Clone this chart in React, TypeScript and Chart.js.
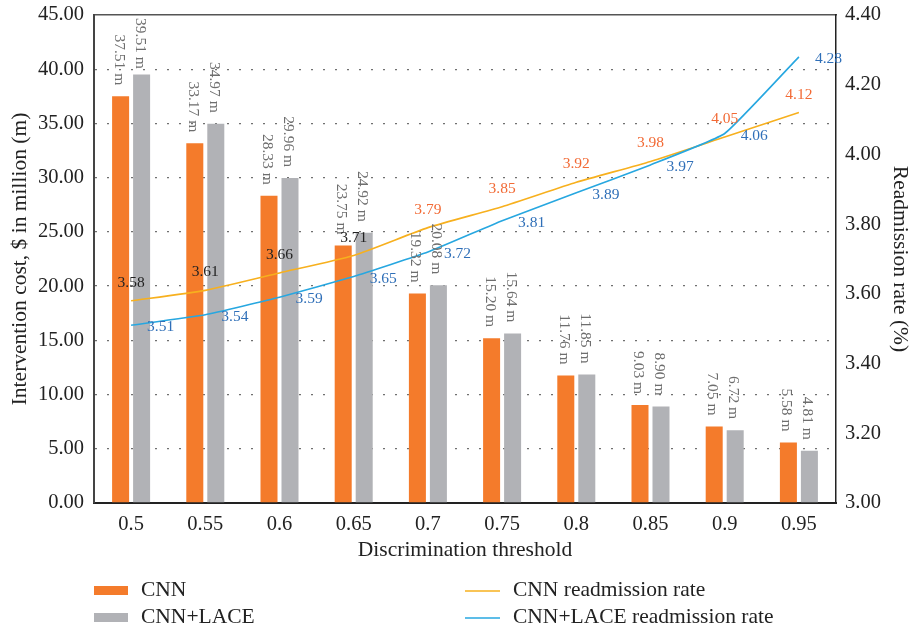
import React, { useEffect, useRef } from "react";
import { Chart, registerables } from "chart.js";

Chart.register(...registerables);

const thresholds = ["0.5", "0.55", "0.6", "0.65", "0.7", "0.75", "0.8", "0.85", "0.9", "0.95"];
const cnnCost = [37.51, 33.17, 28.33, 23.75, 19.32, 15.2, 11.76, 9.03, 7.05, 5.58];
const laceCost = [39.51, 34.97, 29.96, 24.92, 20.08, 15.64, 11.85, 8.9, 6.72, 4.81];
const cnnRate = [3.58, 3.61, 3.66, 3.71, 3.79, 3.85, 3.92, 3.98, 4.05, 4.12];
const laceRate = [3.51, 3.54, 3.59, 3.65, 3.72, 3.81, 3.89, 3.97, 4.06, 4.28];
const cnnRateLabelColors = ["#222", "#222", "#222", "#222", "#F26A35", "#F26A35", "#F26A35", "#F26A35", "#F26A35", "#F26A35"];

const FONT = '"Liberation Serif", "Times New Roman", serif';
const ORANGE = "#F47B2B";
const GRAY = "#B1B2B6";
const LINE_ORANGE = "#F7B01E";
const LINE_BLUE = "#27A7E0";
const LABEL_BLUE = "#2F6FB8";
const TICK_SIZE = 20.5;
const TITLE_SIZE = 21.5;
const LABEL_SIZE = 15.5;

const labelPlugin = {
  id: "valueLabels",
  afterDatasetsDraw(chart: any) {
    const ctx = chart.ctx;
    const area = chart.chartArea;
    ctx.save();
    chart.data.datasets.forEach((ds: any, di: number) => {
      const meta = chart.getDatasetMeta(di);
      meta.data.forEach((el: any, i: number) => {
        const v = ds.data[i];
        ctx.font = `${LABEL_SIZE}px ${FONT}`;
        if (ds.type === "bar") {
          const text = v.toFixed(2) + " m";
          ctx.fillStyle = "#6E6E6E";
          const w = ctx.measureText(text).width;
          const endY = Math.max(el.y - 11, area.top + 3 + w);
          ctx.save();
          ctx.translate(el.x - 2, endY);
          ctx.rotate(Math.PI / 2);
          ctx.textAlign = "right";
          ctx.textBaseline = "middle";
          ctx.fillText(text, 0, 0);
          ctx.restore();
        } else if (ds.labelMode === "above") {
          ctx.fillStyle = cnnRateLabelColors[i];
          ctx.textAlign = "center";
          ctx.textBaseline = "middle";
          ctx.fillText(v.toFixed(2), el.x, el.y - 18);
        } else {
          ctx.fillStyle = LABEL_BLUE;
          ctx.textAlign = "left";
          ctx.textBaseline = "middle";
          ctx.fillText(v.toFixed(2), el.x + 16, el.y + 2);
        }
      });
    });
    ctx.restore();
  },
};

const legendPlugin = {
  id: "gridLegend",
  afterDraw(chart: any) {
    const ctx = chart.ctx;
    const left = chart.chartArea.left;
    const rows = [590, 617];
    ctx.save();
    ctx.font = `${TITLE_SIZE}px ${FONT}`;
    ctx.textBaseline = "middle";
    ctx.textAlign = "left";
    chart.data.datasets.forEach((ds: any, di: number) => {
      const col = ds.type === "bar" ? 0 : 1;
      const row = di % 2;
      const y = rows[row];
      if (col === 0) {
        ctx.fillStyle = ds.backgroundColor;
        ctx.fillRect(left, y - 4, 34, 9);
        ctx.fillStyle = "#222";
        ctx.fillText(ds.label, left + 47, y);
      } else {
        const x0 = 465;
        ctx.strokeStyle = ds.borderColor;
        ctx.lineWidth = 1.5;
        ctx.beginPath();
        ctx.moveTo(x0, y + 1);
        ctx.lineTo(x0 + 35, y + 1);
        ctx.stroke();
        ctx.fillStyle = "#222";
        ctx.fillText(ds.label, x0 + 48, y);
      }
    });
    ctx.restore();
  },
};

const noPad = (s: any) => {
  s.paddingTop = 0;
  s.paddingBottom = 0;
  s.paddingLeft = 0;
  s.paddingRight = 0;
};

export default function App() {
  const ref = useRef<HTMLCanvasElement | null>(null);
  useEffect(() => {
    if (!ref.current) return;
    const chart = new Chart(ref.current, {
      type: "bar",
      data: {
        labels: thresholds,
        datasets: [
          {
            type: "bar",
            label: "CNN",
            data: cnnCost,
            backgroundColor: ORANGE,
            yAxisID: "y",
            order: 2,
            categoryPercentage: 0.566,
            barPercentage: 0.81,
          } as any,
          {
            type: "bar",
            label: "CNN+LACE",
            data: laceCost,
            backgroundColor: GRAY,
            yAxisID: "y",
            order: 2,
            categoryPercentage: 0.566,
            barPercentage: 0.81,
          },
          {
            type: "line",
            label: "CNN readmission rate",
            data: cnnRate,
            borderColor: LINE_ORANGE,
            borderWidth: 1.6,
            pointRadius: 0,
            tension: 0.18,
            yAxisID: "y1",
            order: 1,
            labelMode: "above",
          },
          {
            type: "line",
            label: "CNN+LACE readmission rate",
            data: laceRate,
            borderColor: LINE_BLUE,
            borderWidth: 1.6,
            pointRadius: 0,
            tension: 0.12,
            yAxisID: "y1",
            order: 0,
            labelMode: "right",
          },
        ] as any,
      },
      options: {
        responsive: false,
        animation: false,
        devicePixelRatio: 1,
        layout: { padding: 0 },
        plugins: {
          legend: { display: false },
          tooltip: { enabled: false },
        },
        scales: {
          x: {
            type: "category",
            position: "bottom",
            offset: true,
            grid: { display: false },
            border: { display: true, color: "#222", width: 2 },
            ticks: { color: "#222", font: { family: FONT, size: TICK_SIZE }, padding: 1 },
            title: {
              display: true,
              text: "Discrimination threshold",
              color: "#222",
              font: { family: FONT, size: TITLE_SIZE },
              padding: { top: 0, bottom: 68 },
            },
            afterFit: (s: any) => {
              s.height = 128;
              noPad(s);
            },
          },
          xTop: {
            type: "category",
            position: "top",
            labels: thresholds,
            offset: true,
            grid: { display: false },
            ticks: { display: false },
            border: { display: true, color: "#555", width: 1.5 },
            afterFit: (s: any) => {
              s.height = 15;
              noPad(s);
            },
          },
          y: {
            type: "linear",
            position: "left",
            min: 0,
            max: 45,
            ticks: {
              stepSize: 5,
              color: "#222",
              font: { family: FONT, size: TICK_SIZE },
              padding: 10,
              callback: (v: any) => Number(v).toFixed(2),
            },
            grid: {
              drawTicks: false,
              lineWidth: 1.3,
              color: (c: any) =>
                c.tick && (c.tick.value === 0 || c.tick.value === 45) ? "rgba(0,0,0,0)" : "#707070",
            },
            border: { display: true, color: "#444", width: 2, dash: [2, 10] },
            title: {
              display: true,
              text: "Intervention cost, $ in million (m)",
              color: "#222",
              font: { family: FONT, size: TITLE_SIZE },
              padding: { top: 7, bottom: 0 },
            },
            afterFit: (s: any) => {
              s.width = 94;
              noPad(s);
            },
          },
          y1: {
            type: "linear",
            position: "right",
            min: 3,
            max: 4.4,
            ticks: {
              stepSize: 0.2,
              color: "#222",
              font: { family: FONT, size: TICK_SIZE },
              padding: 9,
              callback: (v: any) => Number(v).toFixed(2),
            },
            grid: { display: false, drawOnChartArea: false, drawTicks: false },
            border: { display: true, color: "#222", width: 1.5 },
            title: {
              display: true,
              text: "Readmission rate (%)",
              color: "#222",
              font: { family: FONT, size: TITLE_SIZE, lineHeight: 0.85 },
              padding: 0,
            },
            afterFit: (s: any) => {
              s.width = 73;
              noPad(s);
            },
          },
        },
      } as any,
      plugins: [labelPlugin, legendPlugin],
    });
    return () => chart.destroy();
  }, []);
  return (
    <div style={{ position: "fixed", left: 0, top: 0, width: 909, height: 631, background: "#fff" }}>
      <canvas ref={ref} width={909} height={631} />
    </div>
  );
}
